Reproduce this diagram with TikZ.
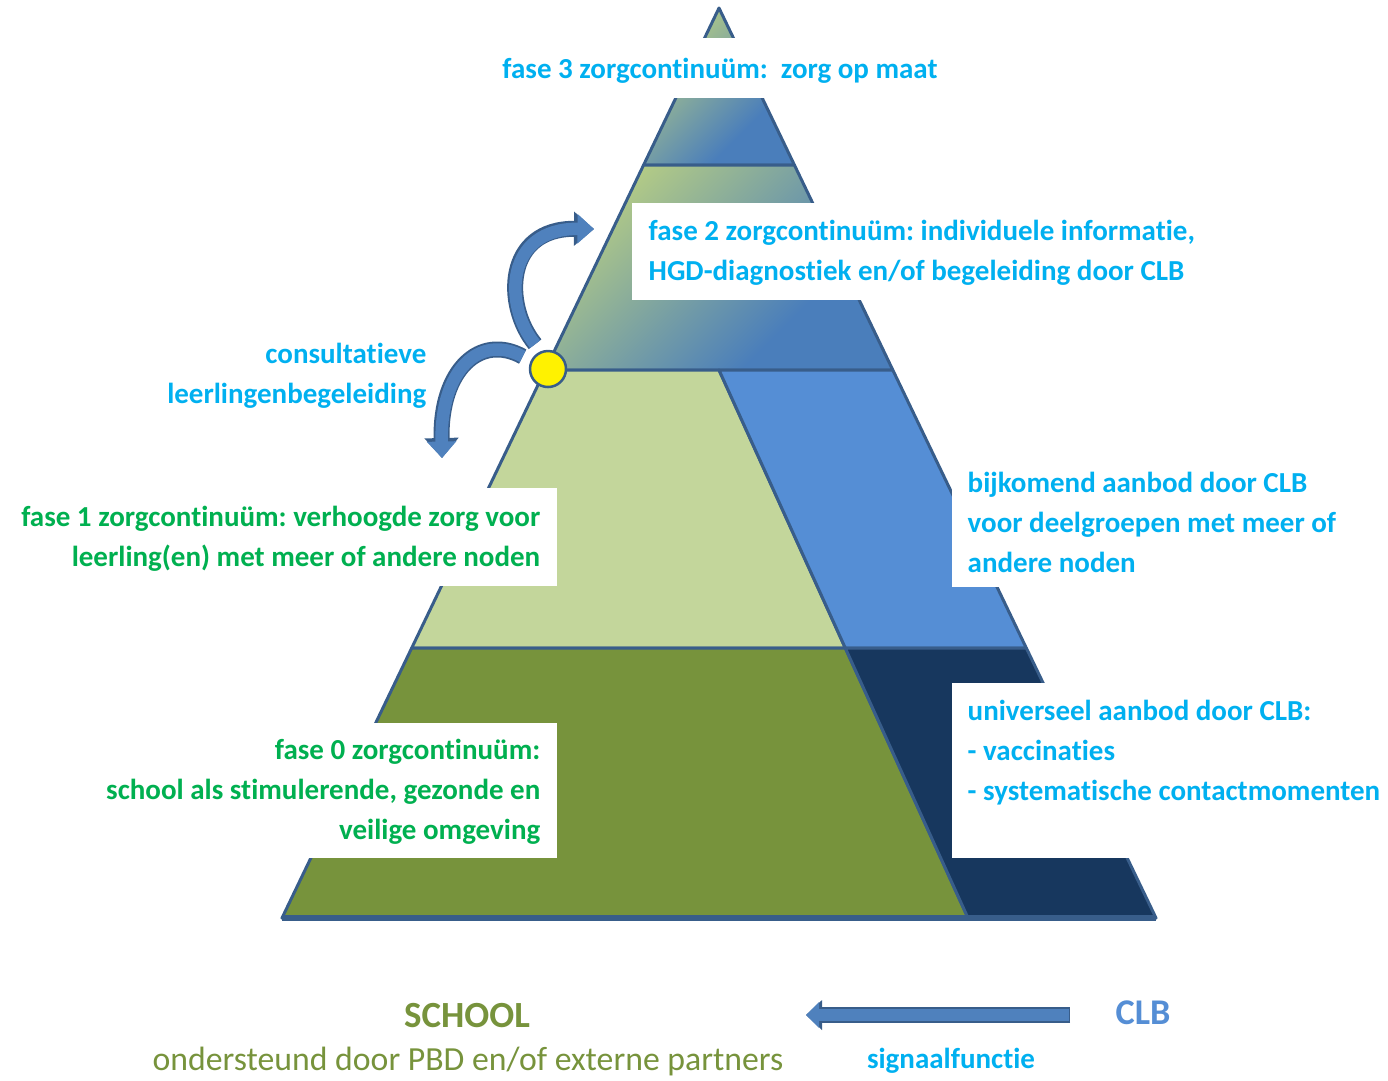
\documentclass[tikz,border=0pt]{standalone}
\usepackage{fontspec}
\setmainfont{Carlito}[Ligatures=NoCommon]
\usepackage{tikz}
\usetikzlibrary{arrows.meta,backgrounds}
\definecolor{edgeblue}{HTML}{385D8A}
\definecolor{arrowblue}{HTML}{4F81BD}
\definecolor{lightgreen}{HTML}{C3D69B}
\definecolor{olivegreen}{HTML}{77933C}
\definecolor{midblue}{HTML}{558ED5}
\definecolor{navyblue}{HTML}{17375E}
\definecolor{cyantext}{HTML}{00B0F0}
\definecolor{greentext}{HTML}{00B050}
\definecolor{topgreen}{HTML}{B6CD84}
\definecolor{topblue}{HTML}{4A7EBB}
\pgfdeclareverticalshading{greenblue}{100bp}{color(0bp)=(topblue); color(34bp)=(topblue); color(74bp)=(topgreen); color(100bp)=(topgreen)}
\newcommand{\edgecolor}{edgeblue}
\newcommand{\thickness}{0.3mm}
\newcommand{\txtfont}{\fontsize{8.25pt}{11.4pt}\selectfont\bfseries}
\frenchspacing

\begin{document}
\begin{tikzpicture}[x=0.1mm, y=-0.1mm,
  cyanlabel/.style={inner sep=0, text=cyantext, font=\txtfont},
  greenlabel/.style={inner sep=0, text=greentext, font=\txtfont},
  layer/.style={draw=\edgecolor, line width=\thickness, line join=round}]
\useasboundingbox (0,0) rectangle (1388,1080);
% corners of the pyramid
\coordinate (top) at (719,8);
\coordinate (l3) at (643.6,165);
\coordinate (r3) at (794.4,165);
\coordinate (l2) at (545.2,370);
\coordinate (r2) at (892.8,370);
\coordinate (l1) at (411.7,648);
\coordinate (r1) at (1026.3,648);
\coordinate (l0) at (282,918);
\coordinate (r0) at (1156,918);
\coordinate (m2) at (719,370);
\coordinate (m1) at (845.3,648);
\coordinate (m0) at (968,918);
%fase 3
\shade[shading=greenblue, shading angle=45] (top) -- (l3) -- (r3) -- cycle;
\draw[layer] (top) -- (l3) -- (r3) -- cycle;
%fase 2
\shade[shading=greenblue, shading angle=45] (l3) -- (r3) -- (r2) -- (l2) -- cycle;
\draw[layer] (l3) -- (r3) -- (r2) -- (l2) -- cycle;
%fase 1
\filldraw[layer, fill=lightgreen] (l2) -- (m2) -- (m1) -- (l1) -- cycle;
\filldraw[layer, fill=midblue] (m2) -- (r2) -- (r1) -- (m1) -- cycle;
%fase 0
\filldraw[layer, fill=olivegreen] (l1) -- (m1) -- (m0) -- (l0) -- cycle;
\filldraw[layer, fill=navyblue] (m1) -- (r1) -- (r0) -- (m0) -- cycle;
\draw[\edgecolor, line width=0.55mm] (l0) -- (r0);
% white boxes
\fill[white] (400,38) rectangle (1040,98);
\fill[white] (632,203) rectangle (1388,300);
\fill[white] (0,488) rectangle (557,586);
\fill[white] (0,723) rectangle (557,858);
\fill[white] (952,470) rectangle (1388,587);
\fill[white] (952,683) rectangle (1388,858);
% labels
\node[cyanlabel] (fase3) at (720,71) {fase 3 zorgcontinuüm:\ \ zorg op maat};
\node[cyanlabel, align=left, anchor=west] (fase2) at (648,253)
  {fase 2 zorgcontinuüm: individuele informatie,\\HGD-diagnostiek en/of begeleiding door CLB};
\node[greenlabel, align=right, anchor=east] (fase1) at (541,539)
  {fase 1 zorgcontinuüm: verhoogde zorg voor\\leerling(en) met meer of andere noden};
\node[greenlabel, align=right, anchor=east] (fase0) at (541,792)
  {fase 0 zorgcontinuüm:\\school als stimulerende, gezonde en\\veilige omgeving};
\node[cyanlabel, align=right, anchor=east] (consult) at (427,376)
  {consultatieve\\leerlingenbegeleiding};
\node[cyanlabel, align=left, anchor=west] (bijkomend) at (967,522)
  {bijkomend aanbod door CLB\\voor deelgroepen met meer of\\andere noden};
\node[cyanlabel, align=left, anchor=west] (universeel) at (967,753)
  {universeel aanbod door CLB:\\- vaccinaties\\- systematische contactmomenten};
\node[inner sep=0, text=olivegreen, font=\fontsize{10.5pt}{12pt}\selectfont\bfseries] (school) at (467,1015) {SCHOOL};
\node[inner sep=0, text=olivegreen, font=\fontsize{9.6pt}{11pt}\selectfont] (partners) at (468,1061) {ondersteund door PBD en/of externe partners};
\node[inner sep=0, text=midblue, font=\fontsize{10.3pt}{12pt}\selectfont\bfseries] (clb) at (1143,1013) {CLB};
\node[cyanlabel] (signaal) at (951,1061) {signaalfunctie};
% knot between fase 1 and fase 2
\node[circle, fill=yellow, draw=\edgecolor, line width=0.25mm, minimum size=3.6mm, inner sep=0] (knot) at (548,369) {};
\coordinate (upend) at (594,229);
\coordinate (downend) at (442,458);
\draw[\edgecolor, line width=1.6mm, shorten <=0.9mm, -{Triangle[width=3.3mm,length=2mm]}]
  (knot.112) .. controls (503,305) and (505,228) .. (upend);
\draw[arrowblue, line width=1.25mm, shorten <=0.9mm, -{Triangle[width=2.85mm,length=1.65mm]}]
  (knot.112) .. controls (503,305) and (505,228) .. (upend);
\draw[\edgecolor, line width=1.6mm, shorten <=0.9mm, -{Triangle[width=3.3mm,length=2mm]}]
  (knot.155) .. controls (480,333) and (440,370) .. (downend);
\draw[arrowblue, line width=1.25mm, shorten <=0.9mm, -{Triangle[width=2.85mm,length=1.65mm]}]
  (knot.155) .. controls (480,333) and (440,370) .. (downend);
% signal arrow
\coordinate (sigtail) at (1070,1015);
\coordinate (sigtip) at (806,1015);
\draw[\edgecolor, line width=1.6mm, -{Triangle[width=2.9mm,length=1.6mm]}] (sigtail) -- (sigtip);
\draw[arrowblue, line width=1.25mm, shorten <=0.15mm, -{Triangle[width=2.5mm,length=1.3mm]}] (sigtail) -- (sigtip);
\end{tikzpicture}
\end{document}
